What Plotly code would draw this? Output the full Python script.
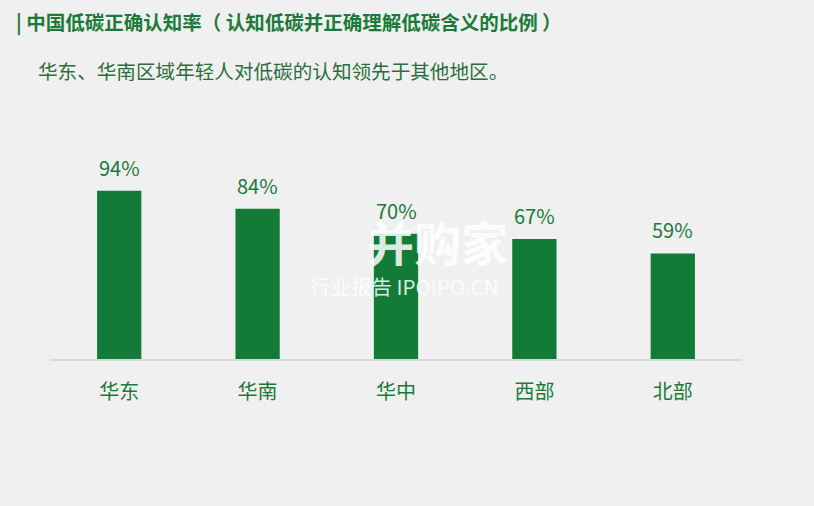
import plotly.graph_objects as go

regions = ["华东", "华南", "华中", "西部", "北部"]
values = [94, 84, 70, 67, 59]
labels = ["94%", "84%", "70%", "67%", "59%"]

title_text = "| 中国低碳正确认知率（ 认知低碳并正确理解低碳含义的比例 ）"
subtitle_text = "华东、华南区域年轻人对低碳的认知领先于其他地区。"

GREEN = "#137b38"
TEXT_GREEN = "#1b7a3a"
FONT = "Noto Sans CJK SC, Microsoft YaHei, sans-serif"

W, H = 814, 506
ML, MR, MT, MB = 50, 72, 180, 147
PW, PH = W - ML - MR, H - MT - MB


def px(x):
    return (x - ML) / PW


def py(y):
    return (H - MB - y) / PH


fig = go.Figure()
fig.add_trace(go.Bar(
    x=regions, y=values, width=0.32,
    marker=dict(color=GREEN, line=dict(width=0)),
    hoverinfo="skip",
))

annotations = []
for r, v, t in zip(regions, values, labels):
    annotations.append(dict(
        x=r, y=v, xref="x", yref="y", text=t, showarrow=False,
        yanchor="bottom", yshift=7,
        font=dict(family=FONT, size=20, color=TEXT_GREEN),
    ))

annotations += [
    dict(x=px(14), y=py(21), xref="paper", yref="paper", text=title_text,
         showarrow=False, xanchor="left", yanchor="middle",
         font=dict(family=FONT, size=19.5, color=TEXT_GREEN, weight="bold")),
    dict(x=px(36), y=py(70), xref="paper", yref="paper", text=subtitle_text,
         showarrow=False, xanchor="left", yanchor="middle",
         font=dict(family=FONT, size=19.6, color="#2a6e3e")),
    # watermark
    dict(x=px(437), y=py(240), xref="paper", yref="paper", text="<b>并购家</b>",
         showarrow=False, xanchor="center", yanchor="middle",
         font=dict(family=FONT, size=47, color="rgba(255,255,255,0.85)")),
    dict(x=px(404), y=py(286), xref="paper", yref="paper", text="行业报告 IPOIPO.CN",
         showarrow=False, xanchor="center", yanchor="middle",
         font=dict(family=FONT, size=20.5, color="rgba(255,255,255,0.85)")),
]

fig.update_layout(
    width=W, height=H,
    margin=dict(l=ML, r=MR, t=MT, b=MB, autoexpand=False),
    paper_bgcolor="#f0f0f0", plot_bgcolor="#f0f0f0",
    showlegend=False,
    annotations=annotations,
    xaxis=dict(
        showgrid=False, zeroline=False, showline=True,
        linecolor="#d9d9d9", linewidth=2, ticks="",
        tickfont=dict(family=FONT, size=20, color=TEXT_GREEN),
        ticklabelstandoff=14,
        fixedrange=True,
    ),
    yaxis=dict(
        range=[0, 100], visible=False, showgrid=False, zeroline=False,
        fixedrange=True,
    ),
)

fig.write_html(
    "out.html",
    config={"displayModeBar": False},
    post_script="document.body.style.margin='0';document.body.style.overflow='hidden';document.body.style.background='#f0f0f0';",
)
